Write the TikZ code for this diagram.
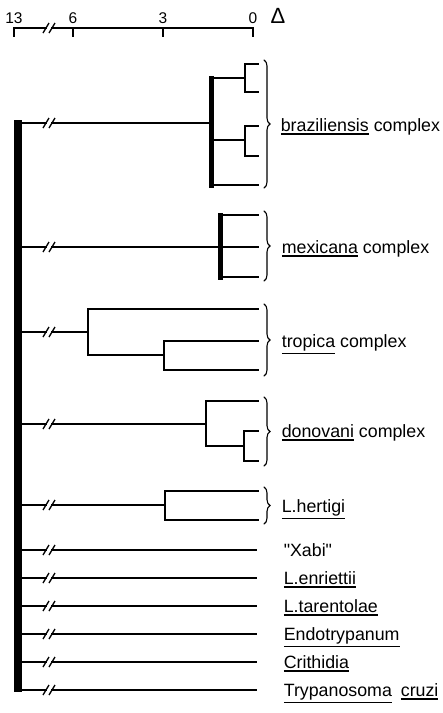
\documentclass[tikz,border=0pt]{standalone}
\usepackage{fontspec}
\setmainfont{Liberation Sans}[Ligatures=TeXOff]
\usetikzlibrary{decorations.pathreplacing,calc}
\newcommand\ulw[1]{\setbox0\hbox{#1}\rlap{\rule[\dimexpr-\dp0-3.5pt\relax]{\wd0}{1.3pt}}\box0\relax}
\begin{document}
\begin{tikzpicture}[x=1pt,y=-1pt,line width=1.6pt,line cap=rect,
  lab/.style={anchor=base west,inner sep=0pt,font=\fontsize{17.8}{20}\selectfont},
  sc/.style={anchor=base,inner sep=0pt,font=\fontsize{15.5}{17}\selectfont},
  brc/.style={line width=1.1pt,line cap=round,decorate,decoration={brace,amplitude=6pt}},
  heavy/.style={line width=5pt},
  slash/.style={line width=1.3pt,line cap=butt}]
\useasboundingbox (0,0) rectangle (443,713);
% ---------- scale ----------
\coordinate (s13) at (14,28);
\coordinate (s6) at (73,28);
\coordinate (s3) at (163,28);
\coordinate (s0) at (253,28);
\coordinate (sb1) at (46,28);
\coordinate (sb2) at (52,28);
\draw[line width=1.5pt] ($(s13)+(0,8)$) -- (s13) -- (sb1);
\draw[line width=1.5pt] (sb2) -- (s0) -- ($(s0)+(0,8)$);
\draw[line width=1.5pt] (s6) -- ($(s6)+(0,8)$);
\draw[line width=1.5pt] (s3) -- ($(s3)+(0,8)$);
\draw[slash] ($(sb1)+(-3,5)$) -- ($(sb1)+(3,-5)$);
\draw[slash] ($(sb2)+(-3,5)$) -- ($(sb2)+(3,-5)$);
\node[sc] (l13) at (14,23) {13};
\node[sc] (l6) at (73,23) {6};
\node[sc] (l3) at (163,23) {3};
\node[sc] (l0) at (253,23) {0};
\node[anchor=base,inner sep=0pt,font=\fontsize{22}{24}\selectfont] (delta) at (278,23) {Δ};
% ---------- root ----------
\coordinate (rt) at (17.5,120);
\coordinate (rb) at (17.5,691.5);
\draw[line width=8pt,line cap=butt] (rt) -- (rb);
\foreach \y/\tx/\n in {123/211/b,247/220/m,332/88/t,424/206/d,505/165/h,550/256/x,578/256/e,606/256/ta,634/256/en,662/256/c,690/256/tr}{
  \coordinate (r\n) at (21.5,\y);
  \coordinate (n\n) at (\tx,\y);
  \draw (r\n) -- ($(r\n)+(24.5,0)$);
  \draw ($(r\n)+(30.5,0)$) -- (n\n);
  \draw[slash] ($(r\n)+(21.5,5)$) -- ($(r\n)+(27.5,-5)$);
  \draw[slash] ($(r\n)+(27.5,5)$) -- ($(r\n)+(33.5,-5)$);
}
% ---------- braziliensis ----------
\coordinate (Bt) at (211,78);
\coordinate (Bb) at (211,185);
\coordinate (Bm) at (211,140);
\coordinate (B1) at (245,78);
\coordinate (B2) at (245,140);
\coordinate (b1) at (258,64);
\coordinate (b2) at (258,92);
\coordinate (b3) at (258,126);
\coordinate (b4) at (258,156);
\coordinate (b5) at (258,185);
\draw[heavy] (Bt) -- (Bb);
\draw (Bt) -- (B1);
\draw (b1) -| (B1) |- (b2);
\draw (Bm) -- (B2);
\draw (b3) -| (B2) |- (b4);
\draw (Bb) -- (b5);
% ---------- mexicana ----------
\coordinate (Mt) at (220,215);
\coordinate (Mb) at (220,277);
\coordinate (m1) at (258,215);
\coordinate (m2) at (258,247);
\coordinate (m3) at (258,277);
\draw[heavy] (Mt) -- (Mb);
\draw (Mt) -- (m1);
\draw (nm) -- (m2);
\draw (Mb) -- (m3);
% ---------- tropica ----------
\coordinate (T2) at (164,355);
\coordinate (t1) at (258,309);
\coordinate (t2) at (258,341);
\coordinate (t3) at (258,370);
\draw (t1) -| (nt) |- (T2);
\draw (t2) -| (T2) |- (t3);
% ---------- donovani ----------
\coordinate (D2) at (244,446);
\coordinate (d1) at (258,401);
\coordinate (d2) at (258,431);
\coordinate (d3) at (258,461);
\draw (d1) -| (nd) |- (D2);
\draw (d2) -| (D2) |- (d3);
% ---------- hertigi ----------
\coordinate (h1) at (258,491);
\coordinate (h2) at (258,520);
\draw (h1) -| (nh) |- (h2);
% ---------- braces ----------
\draw[brc] (264,60) -- (264,188);
\draw[brc] (264,211) -- (264,281);
\draw[brc] (264,304) -- (264,376);
\draw[brc] (264,397) -- (264,466);
\draw[brc] (264,487) -- (264,524);
% ---------- labels ----------
\node[lab] (Lb) at (280,131) {\ulw{braziliensis} complex};
\node[lab] (Lm) at (281,253) {\ulw{mexicana} complex};
\node[lab] (Lt) at (281,347) {\ulw{tropica} complex};
\node[lab] (Ld) at (281,437) {\ulw{donovani} complex};
\node[lab] (Lh) at (281,512) {\ulw{L.hertigi}};
\node[lab] (Lx) at (283,556) {"Xabi"};
\node[lab] (Le) at (283,584) {\ulw{L.enriettii}};
\node[lab] (Lta) at (283,612) {\ulw{L.tarentolae}};
\node[lab] (Len) at (283,640) {\ulw{Endotrypanum}};
\node[lab] (Lc) at (283,668) {\ulw{Crithidia}};
\node[lab] (Ltr) at (283,696) {\ulw{Trypanosoma}\hspace{0.5em}\ulw{cruzi}};
\end{tikzpicture}
\end{document}
